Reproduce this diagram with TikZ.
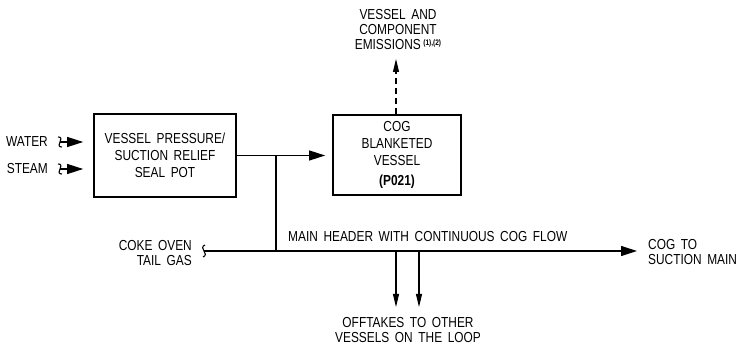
\documentclass[tikz,border=0pt]{standalone}
\usepackage{fontspec}
\setmainfont{Liberation Sans}[FakeStretch=0.82,WordSpace=1.7]
\usetikzlibrary{arrows.meta,positioning}

\begin{document}
\begin{tikzpicture}[x=1pt, y=-1pt,
    pipe/.style={line width=1.1pt},
    flow/.style={pipe, -{Triangle[length=16pt,width=10pt]}},
    drop/.style={pipe, -{Triangle[length=13pt,width=6pt]}},
    unit/.style={draw, line width=1.7pt, inner sep=0pt, align=center,
        font=\fontsize{14.5}{17}\selectfont},
    tag/.style={inner sep=0pt, font=\fontsize{14.5}{15}\selectfont}]
    \useasboundingbox (0,0) rectangle (739,347);

    % units
    \node[unit, minimum width=142pt, minimum height=83pt] (pot) at (165,155.5)
        {VESSEL PRESSURE/\\SUCTION RELIEF\\SEAL POT};
    \node[unit, minimum width=128pt, minimum height=80pt] (blank) at (397,155)
        {COG\\BLANKETED\\VESSEL\\[3pt]\textbf{(P021)}};

    % labels
    \node[tag, align=center] (emis) at (398,30)
        {VESSEL AND\\COMPONENT\\EMISSIONS\,\raisebox{4pt}{\fontsize{8}{8}\selectfont\bfseries(1),(2)}};
    \node[tag, anchor=east, align=right] (coke) at (192,253) {COKE OVEN\\TAIL GAS};
    \node[tag, anchor=west] (hdrtxt) at (288,237) {MAIN HEADER WITH CONTINUOUS COG FLOW};
    \node[tag, anchor=west, align=left] (suct) at (648,252.5) {COG TO\\SUCTION MAIN};
    \node[tag, align=center] (offt) at (408,330) {OFFTAKES TO OTHER\\VESSELS ON THE LOOP};

    % water and steam feeds
    \foreach \name/\y in {WATER/142, STEAM/169} {
        \node[tag, anchor=east] (\name) at (48,\y) {\name};
        \coordinate (in\name) at (60,\y);
        \draw[pipe] (in\name) ++(-2,-5) .. controls ++(4,0) and ++(1,-3) .. (in\name)
            .. controls ++(-1,3) and ++(-4,0) .. ++(2,5);
        \draw[flow, shorten >=10pt] (in\name) -- (in\name -| pot.west);
    }

    % pot to vessel and tee down to header
    \draw[flow, shorten >=7pt] (pot.east) -- (pot.east -| blank.west);
    \coordinate (tee) at (276,155.5);
    \coordinate (tail) at (204,251);
    \draw[pipe] (tee) -- (tee |- tail);

    % main header
    \draw[pipe] (tail) ++(1,-6) .. controls ++(-3,1) and ++(-2,-2) .. (tail)
        .. controls ++(2,2) and ++(3,-1) .. ++(-1,6);
    \draw[flow, shorten >=11pt] (tail) -- (tail -| suct.west);

    % emissions
    \draw[pipe, dash pattern=on 6pt off 4pt, -{Triangle[length=13pt,width=6pt]},
        shorten >=10pt] (blank.north -| 396,0) -- (396,49);

    % offtakes
    \foreach \x in {396,419} {
        \coordinate (off\x) at (\x,251);
        \draw[drop] (off\x) -- ++(0,56);
    }
\end{tikzpicture}
\end{document}
